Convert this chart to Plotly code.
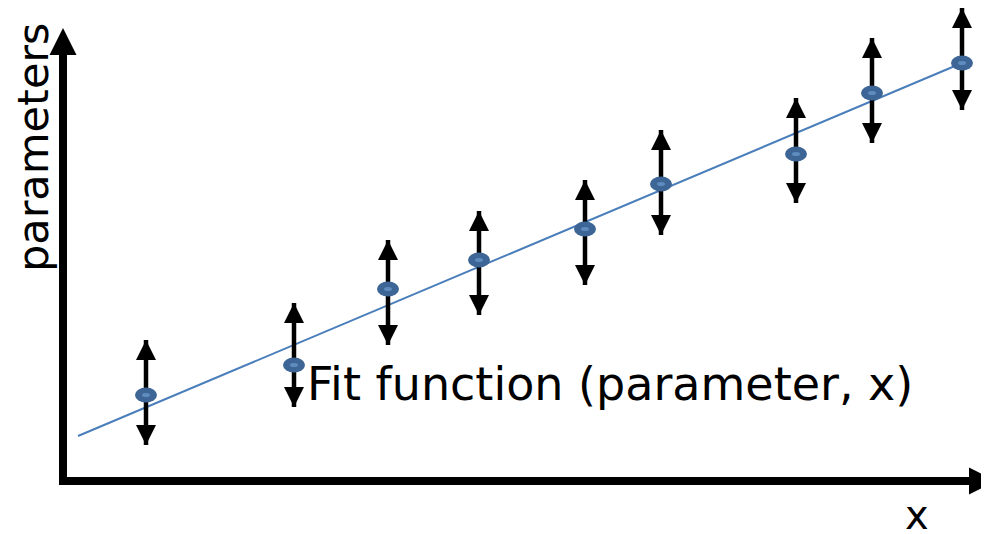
import plotly.graph_objects as go

# ---- data (diagram units: origin at the axes corner) ----
point_x = [83, 231, 325, 416, 522, 598, 733, 809, 899]
point_y = [86, 116, 192, 221, 252, 297, 327, 388, 418]
err_up = [55, 62, 49, 49, 49, 54, 56, 55, 55]
err_down = [50, 42, 56, 55, 56, 51, 49, 50, 47]

fit_x = [15, 899]
fit_y = [45, 418]

x_axis_end = 933
y_axis_end = 453

fit_label = "Fit function (parameter, x)"
y_label = "parameters"
x_label = "x"

# ---- styling ----
# page body has an 8px margin, so ranges are shifted to compensate
X_RANGE = [-55, 934]
Y_RANGE = [-61, 473]
FONT = "DejaVu Sans"
DOT_DARK = "#3d6696"
DOT_LIGHT = "#5f8cbf"
FIT_COLOR = "#4a7ebb"
AXIS_W = 8
HEAD = 27

fig = go.Figure()

# fit line
fig.add_trace(go.Scatter(
    x=fit_x, y=fit_y, mode="lines",
    line=dict(color=FIT_COLOR, width=2), hoverinfo="skip", showlegend=False))

# error bar stems
fig.add_trace(go.Scatter(
    x=point_x, y=point_y, mode="markers",
    marker=dict(size=1, color="rgba(0,0,0,0)"),
    error_y=dict(type="data", symmetric=False, array=err_up, arrayminus=err_down,
                 color="black", thickness=4.5, width=0),
    showlegend=False, cliponaxis=False))

# arrow heads at error bar ends
tops = [y + u for y, u in zip(point_y, err_up)]
bottoms = [y - d for y, d in zip(point_y, err_down)]
fig.add_trace(go.Scatter(
    x=point_x, y=tops, mode="markers",
    marker=dict(symbol="arrow-up", size=20, color="black", line=dict(width=0)),
    showlegend=False, cliponaxis=False))
fig.add_trace(go.Scatter(
    x=point_x, y=bottoms, mode="markers",
    marker=dict(symbol="arrow-down", size=20, color="black", line=dict(width=0)),
    showlegend=False, cliponaxis=False))

# axes arrow heads
fig.add_trace(go.Scatter(
    x=[0], y=[y_axis_end], mode="markers",
    marker=dict(symbol="arrow-up", size=HEAD, color="black", line=dict(width=0)),
    showlegend=False, cliponaxis=False))
fig.add_trace(go.Scatter(
    x=[x_axis_end], y=[0], mode="markers",
    marker=dict(symbol="arrow-right", size=HEAD, color="black", line=dict(width=0)),
    showlegend=False, cliponaxis=False))

shapes = []
# axis stems
shapes.append(dict(type="line", xref="x", yref="y", x0=0, x1=0, y0=-4,
                   y1=y_axis_end - 18, line=dict(color="black", width=AXIS_W)))
shapes.append(dict(type="line", xref="x", yref="y", x0=-4, x1=x_axis_end - 18,
                   y0=0, y1=0, line=dict(color="black", width=AXIS_W)))
# data dots (ellipses)
for x, y in zip(point_x, point_y):
    shapes.append(dict(type="circle", xref="x", yref="y", xsizemode="pixel",
                       ysizemode="pixel", xanchor=x, yanchor=y,
                       x0=-11, x1=11, y0=-7.5, y1=7.5, fillcolor=DOT_DARK,
                       line=dict(width=0), layer="above"))
    shapes.append(dict(type="circle", xref="x", yref="y", xsizemode="pixel",
                       ysizemode="pixel", xanchor=x, yanchor=y,
                       x0=-4, x1=4, y0=-2, y1=2, fillcolor=DOT_LIGHT,
                       line=dict(width=0), layer="above"))

annotations = [
    dict(x=242, y=97, xref="x", yref="y", text=fit_label, showarrow=False,
         xanchor="left", yanchor="middle", font=dict(family=FONT, size=46, color="black")),
    dict(x=-30, y=333, xref="x", yref="y", text=y_label, showarrow=False,
         textangle=-90, xanchor="center", yanchor="middle",
         font=dict(family=FONT, size=43, color="black")),
    dict(x=854, y=-34, xref="x", yref="y", text=x_label, showarrow=False,
         xanchor="center", yanchor="middle", font=dict(family=FONT, size=40, color="black")),
]

fig.update_layout(
    width=989, height=534,
    margin=dict(l=0, r=0, t=0, b=0),
    paper_bgcolor="white", plot_bgcolor="white",
    xaxis=dict(range=X_RANGE, visible=False, fixedrange=True),
    yaxis=dict(range=Y_RANGE, visible=False, fixedrange=True),
    shapes=shapes, annotations=annotations, showlegend=False,
)

fig.write_html("out.html")
